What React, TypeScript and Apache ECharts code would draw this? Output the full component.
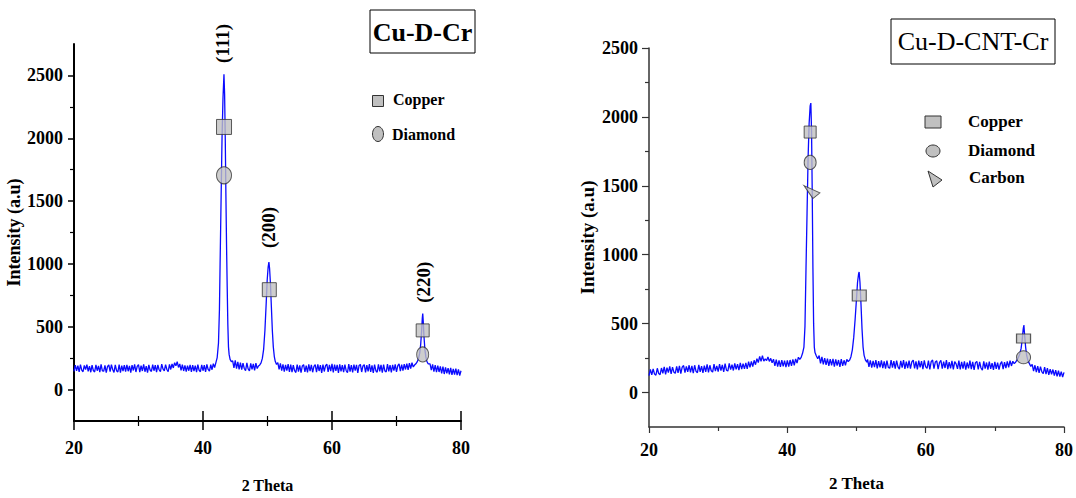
import React, { useEffect, useRef } from "react";
import * as echarts from "echarts";

// ---------- shared axis values ----------
const thetaMajor = [20, 40, 60, 80];
const thetaMinor = [30, 50, 70];
const intensityMajor = [0, 500, 1000, 1500, 2000, 2500];
const intensityMinor = [250, 750, 1250, 1750, 2250];
const SAMPLE_STEP = 0.2;

// ---------- Cu-D-Cr pattern (left) ----------
// baseline from 20.0 to 41.8 every 0.2 deg
const cdcBase20 = [
  145, 195, 150, 190, 140, 198, 155, 142, 192, 160,
  198, 145, 186, 138, 194, 152, 140, 196, 150, 188,
  138, 200, 148, 146, 192, 135, 184, 196, 142, 198,
  160, 136, 196, 150, 140, 198, 134, 190, 148, 194,
  142, 196, 146, 188, 134, 194, 152, 200, 140, 184,
  198, 138, 190, 148, 200, 142, 186, 134, 196, 156,
  144, 198, 150, 194, 138, 196, 158, 142, 202, 164,
  148, 198, 160, 142, 200, 160, 204, 172, 214, 190,
  222, 176, 204, 152, 198, 148, 192, 142, 190, 150,
  196, 140, 194, 148, 190, 138, 198, 154, 142, 196,
  150, 194, 140, 200, 160, 146, 198, 158, 206, 176,
];
const cdcPeak111 = [
  [42.0, 215], [42.2, 255], [42.4, 370], [42.55, 640], [42.65, 1000], [42.8, 1500],
  [42.95, 2000], [43.1, 2320], [43.25, 2510], [43.35, 2350], [43.45, 2000], [43.55, 1550],
  [43.65, 1150], [43.75, 820], [43.85, 520], [43.95, 340], [44.05, 280], [44.2, 240], [44.4, 222],
];
// baseline 44.6 – 48.4
const cdcBase446 = [228, 172, 232, 166, 220, 160, 214, 158, 210, 168, 150, 212, 164, 148, 208, 160, 204, 152, 210, 168];
const cdcPeak200 = [
  [48.6, 188], [48.8, 196], [49.0, 212], [49.2, 248], [49.4, 320], [49.6, 470], [49.8, 690],
  [49.95, 870], [50.1, 975], [50.22, 1015], [50.32, 965], [50.45, 850], [50.6, 660], [50.75, 470],
  [50.9, 340], [51.05, 265], [51.2, 225], [51.4, 200],
];
// baseline 51.6 – 72.6
const cdcBase516 = [
  215, 160, 208, 150, 200, 142, 196, 150, 202, 140,
  198, 138, 194, 150, 136, 198, 142, 192, 134, 188,
  198, 140, 190, 136, 200, 146, 196, 138, 184, 198,
  138, 200, 148, 194, 132, 198, 144, 190, 202, 140,
  196, 146, 204, 136, 198, 148, 196, 132, 200, 144,
  194, 138, 198, 150, 134, 202, 142, 194, 136, 198,
  150, 196, 132, 192, 200, 140, 188, 198, 136, 194,
  144, 202, 140, 192, 132, 198, 150, 138, 200, 144,
  196, 134, 198, 148, 140, 202, 144, 194, 136, 196,
  150, 200, 140, 190, 204, 146, 198, 150, 202, 160,
  206, 156, 210, 166, 214, 180,
];
const cdcPeak220 = [
  [72.8, 195], [73.0, 205], [73.2, 220], [73.4, 245], [73.6, 290], [73.75, 360], [73.9, 470],
  [74.0, 570], [74.07, 605], [74.15, 540], [74.25, 430], [74.4, 320], [74.55, 260], [74.7, 225], [74.9, 205],
];
// baseline 75.2 – 80.0
const cdcBase752 = [205, 155, 200, 142, 194, 138, 190, 140, 184, 128, 182, 124, 176, 130, 170, 122, 172, 118, 164, 120, 166, 115, 160, 112, 150];

const cdcCopper = [[43.26, 2090], [50.28, 795], [74.06, 471]];
const cdcDiamond = [[43.26, 1705], [74.06, 280]];
const cdcPeakNames = ["(111)", "(200)", "(220)"];
const cdcPeakNameAt = [[43.1, 2755], [50.2, 1290], [74.25, 855]];

// ---------- Cu-D-CNT-Cr pattern (right) ----------
const cntBase20 = [
  122, 168, 128, 172, 134, 126, 176, 138, 130, 178,
  140, 186, 132, 180, 144, 190, 136, 184, 148, 140,
  190, 142, 194, 138, 184, 196, 144, 190, 150, 198,
  146, 194, 140, 198, 154, 144, 200, 150, 192, 142,
  196, 150, 204, 146, 198, 158, 148, 206, 156, 194,
  152, 206, 160, 200, 150, 210, 162, 156, 212, 166,
  202, 160, 212, 168, 206, 162, 216, 170, 210, 172,
  216, 172, 224, 182, 226, 188, 234, 202, 246, 218,
  262, 226, 268, 228, 244, 232, 258, 226, 248, 216,
  242, 194, 238, 188, 234, 186, 236, 190, 232, 184,
  234, 188, 236, 194, 240, 198, 244, 214, 256, 240,
];
const cntPeak111 = [
  [42.0, 255], [42.2, 285], [42.4, 330], [42.55, 480], [42.7, 900], [42.85, 1300], [43.0, 1700],
  [43.15, 1950], [43.3, 2080], [43.4, 2100], [43.5, 1900], [43.6, 1450], [43.7, 900], [43.8, 500],
  [43.9, 330], [44.0, 290], [44.2, 265], [44.4, 245],
];
// baseline 44.6 – 48.6
const cntBase446 = [268, 212, 258, 204, 250, 200, 246, 194, 242, 198, 244, 188, 240, 196, 236, 186, 242, 194, 234, 198, 240];
const cntPeak200 = [
  [48.8, 225], [49.0, 235], [49.2, 260], [49.4, 310], [49.6, 400], [49.8, 530], [50.0, 680],
  [50.15, 800], [50.3, 860], [50.38, 875], [50.5, 800], [50.65, 640], [50.8, 460], [50.95, 330],
  [51.1, 270], [51.3, 235], [51.5, 220],
];
// baseline 51.6 – 72.6
const cntBase516 = [
  240, 186, 234, 180, 230, 184, 236, 176, 228, 182,
  234, 178, 226, 174, 232, 182, 176, 236, 180, 228,
  174, 232, 186, 170, 230, 180, 236, 172, 224, 178,
  232, 174, 222, 236, 176, 226, 168, 232, 182, 228,
  170, 234, 186, 176, 232, 168, 224, 236, 174, 222,
  230, 170, 218, 234, 174, 224, 178, 236, 170, 220,
  176, 230, 168, 224, 208, 172, 232, 168, 222, 174,
  226, 166, 218, 176, 232, 170, 222, 164, 217, 226,
  168, 222, 178, 162, 226, 174, 218, 166, 224, 172,
  214, 164, 222, 172, 217, 166, 208, 224, 170, 220,
  178, 226, 183, 232, 193, 227,
];
const cntPeak220 = [
  [72.8, 210], [73.0, 220], [73.2, 235], [73.4, 255], [73.6, 280], [73.8, 320], [73.95, 380],
  [74.1, 460], [74.2, 490], [74.3, 420], [74.45, 330], [74.6, 270], [74.8, 230], [75.0, 210], [75.2, 190],
];
// baseline 75.4 – 80.0
const cntBase754 = [204, 156, 198, 148, 192, 143, 188, 150, 138, 184, 133, 177, 128, 170, 133, 167, 123, 162, 118, 158, 116, 152, 113, 146];

const cntCopper = [[43.3, 1890], [50.4, 704], [74.15, 392]];
const cntDiamond = [[43.3, 1670], [74.15, 256]];
const cntCarbon = [[43.55, 1455]];

// ---------- helpers ----------
const seg = (start: number, vals: number[]) =>
  vals.map((v, i) => [Math.round((start + i * SAMPLE_STEP) * 100) / 100, v]);

const cdcData = [
  ...seg(20, cdcBase20), ...cdcPeak111, ...seg(44.6, cdcBase446), ...cdcPeak200,
  ...seg(51.6, cdcBase516), ...cdcPeak220, ...seg(75.2, cdcBase752),
];
const cntData = [
  ...seg(20, cntBase20), ...cntPeak111, ...seg(44.6, cntBase446), ...cntPeak200,
  ...seg(51.6, cntBase516), ...cntPeak220, ...seg(75.4, cntBase754),
];

const SERIF = '"Liberation Serif", "Times New Roman", Times, serif';
const MARK_FILL = "#c0c0c0";
const MARK_EDGE = "#333333";
const LINE_BLUE = "#0a0aff";

const withSizes = (pts: number[][], sizes: number[][]) =>
  pts.map((p, i) => ({ value: p, symbolSize: sizes[i] }));

export default function App() {
  const ref = useRef<HTMLDivElement>(null);
  useEffect(() => {
    if (!ref.current) return;
    const chart = echarts.init(ref.current, null, { renderer: "svg" });
    const plain = (v: number) => String(v);
    const lbl = (size: number, margin: number) => ({
      show: true, fontFamily: SERIF, fontWeight: "bold", fontSize: size, color: "#000", margin, formatter: plain,
    });
    const xBase = (grid: number) => ({
      type: "value", gridIndex: grid, min: 20, max: 80, position: "bottom",
      splitLine: { show: false },
    });
    const yBase = (grid: number, max: number) => ({
      type: "value", gridIndex: grid, min: -250, max, position: "left",
      splitLine: { show: false },
    });
    const hiddenLine = { show: false, onZero: false };
    const noLabel = { show: false };

    const markStyle = { color: MARK_FILL, borderColor: MARK_EDGE, borderWidth: 1 };

    const staticGraphic: any[] = [
      // left title
      { type: "rect", shape: { x: 370, y: 10, width: 105, height: 43 }, style: { fill: "#fff", stroke: "#000", lineWidth: 1 } },
      {
        type: "text", x: 422.5, y: 32,
        style: { text: "Cu-D-Cr", fontFamily: SERIF, fontWeight: "bold", fontSize: 26, fill: "#000", textAlign: "center", textVerticalAlign: "middle", align: "center", verticalAlign: "middle" },
      },
      // right title
      { type: "rect", shape: { x: 891, y: 19, width: 164, height: 45 }, style: { fill: "#fff", stroke: "#000", lineWidth: 1 } },
      {
        type: "text", x: 973, y: 41,
        style: { text: "Cu-D-CNT-Cr", fontFamily: SERIF, fontWeight: "normal", fontSize: 26, fill: "#000", textAlign: "center", textVerticalAlign: "middle", align: "center", verticalAlign: "middle" },
      },
      // left legend
      { type: "rect", shape: { x: 372.5, y: 95.5, width: 11, height: 11 }, style: { fill: MARK_FILL, stroke: MARK_EDGE, lineWidth: 1 } },
      { type: "text", x: 393, y: 99, style: { text: "Copper", fontFamily: SERIF, fontWeight: "bold", fontSize: 16, fill: "#000", textVerticalAlign: "middle", verticalAlign: "middle" } },
      { type: "ellipse", shape: { cx: 378, cy: 134, rx: 5.5, ry: 7.5 }, style: { fill: MARK_FILL, stroke: MARK_EDGE, lineWidth: 1 } },
      { type: "text", x: 392, y: 134, style: { text: "Diamond", fontFamily: SERIF, fontWeight: "bold", fontSize: 16, fill: "#000", textVerticalAlign: "middle", verticalAlign: "middle" } },
      // right legend
      { type: "rect", shape: { x: 925, y: 116, width: 16, height: 12 }, style: { fill: MARK_FILL, stroke: MARK_EDGE, lineWidth: 1 } },
      { type: "text", x: 968, y: 121, style: { text: "Copper", fontFamily: SERIF, fontWeight: "bold", fontSize: 17, fill: "#000", textVerticalAlign: "middle", verticalAlign: "middle" } },
      { type: "ellipse", shape: { cx: 933, cy: 151, rx: 7, ry: 6 }, style: { fill: MARK_FILL, stroke: MARK_EDGE, lineWidth: 1 } },
      { type: "text", x: 968, y: 150, style: { text: "Diamond", fontFamily: SERIF, fontWeight: "bold", fontSize: 17, fill: "#000", textVerticalAlign: "middle", verticalAlign: "middle" } },
      { type: "polygon", shape: { points: [[928, 171], [942, 180], [933, 187]] }, style: { fill: MARK_FILL, stroke: MARK_EDGE, lineWidth: 1 } },
      { type: "text", x: 969, y: 177, style: { text: "Carbon", fontFamily: SERIF, fontWeight: "bold", fontSize: 17, fill: "#000", textVerticalAlign: "middle", verticalAlign: "middle" } },
    ];

    const option: any = {
      animation: false,
      backgroundColor: "#fff",
      grid: [
        { left: 74, top: 44, width: 387, height: 382 },
        { left: 649, top: 48, width: 417, height: 379 },
      ],
      xAxis: [
        {
          ...xBase(0),
          axisLine: { show: true, onZero: false, lineStyle: { color: "#000", width: 2 } },
          axisTick: { show: true, customValues: thetaMajor, length: 9, lineStyle: { color: "#000", width: 1.5 } },
          axisLabel: { ...lbl(18, 18), customValues: thetaMajor },
          name: "2 Theta", nameLocation: "middle", nameGap: 56,
          nameTextStyle: { fontFamily: SERIF, fontWeight: "bold", fontSize: 16, color: "#000" },
        },
        {
          ...xBase(0), axisLine: hiddenLine, axisLabel: noLabel,
          axisTick: { show: true, inside: true, customValues: thetaMajor, length: 10, lineStyle: { color: "#000", width: 1.5 } },
        },
        {
          ...xBase(0), axisLine: hiddenLine, axisLabel: noLabel,
          axisTick: { show: true, customValues: thetaMinor, length: 5, lineStyle: { color: "#000", width: 1.2 } },
        },
        {
          ...xBase(0), axisLine: hiddenLine, axisLabel: noLabel,
          axisTick: { show: true, inside: true, customValues: thetaMinor, length: 5, lineStyle: { color: "#000", width: 1.2 } },
        },
        {
          ...xBase(1),
          axisLine: { show: true, onZero: false, lineStyle: { color: "#333", width: 1.5 } },
          axisTick: { show: true, customValues: thetaMajor, length: 6, lineStyle: { color: "#333", width: 1.2 } },
          axisLabel: { ...lbl(18, 14), customValues: thetaMajor },
          name: "2 Theta", nameLocation: "middle", nameGap: 48,
          nameTextStyle: { fontFamily: SERIF, fontWeight: "bold", fontSize: 17, color: "#000" },
        },
        {
          ...xBase(1), axisLine: hiddenLine, axisLabel: noLabel,
          axisTick: { show: true, customValues: thetaMinor, length: 4, lineStyle: { color: "#333", width: 1.2 } },
        },
      ],
      yAxis: [
        {
          ...yBase(0, 2750),
          axisLine: { show: true, onZero: false, lineStyle: { color: "#000", width: 2 } },
          axisTick: { show: true, customValues: intensityMajor, length: 6, lineStyle: { color: "#000", width: 1.5 } },
          axisLabel: { ...lbl(18, 11), customValues: intensityMajor },
          name: "Intensity (a.u)", nameLocation: "middle", nameGap: 44, nameRotate: 90,
          nameTextStyle: { fontFamily: SERIF, fontWeight: "bold", fontSize: 18, color: "#000" },
        },
        {
          ...yBase(0, 2750), axisLine: hiddenLine, axisLabel: noLabel,
          axisTick: { show: true, customValues: intensityMinor, length: 4, lineStyle: { color: "#000", width: 1.2 } },
        },
        {
          ...yBase(1, 2500),
          axisLine: { show: true, onZero: false, lineStyle: { color: "#333", width: 1.5 } },
          axisTick: { show: true, customValues: intensityMajor, length: 7, lineStyle: { color: "#333", width: 1.2 } },
          axisLabel: { ...lbl(18, 11), customValues: intensityMajor },
          name: "Intensity (a.u)", nameLocation: "middle", nameGap: 52, nameRotate: 90,
          nameTextStyle: { fontFamily: SERIF, fontWeight: "bold", fontSize: 19, color: "#000" },
        },
        {
          ...yBase(1, 2500), axisLine: hiddenLine, axisLabel: noLabel,
          axisTick: { show: true, customValues: intensityMinor, length: 4, lineStyle: { color: "#333", width: 1.2 } },
        },
      ],
      series: [
        {
          name: "Cu-D-Cr", type: "line", xAxisIndex: 0, yAxisIndex: 0, data: cdcData,
          showSymbol: false, symbol: "none", lineStyle: { color: LINE_BLUE, width: 1.3 }, z: 2,
        },
        {
          name: "Copper", type: "scatter", xAxisIndex: 0, yAxisIndex: 0, symbol: "rect",
          data: withSizes(cdcCopper, [[15, 15], [14, 14], [13, 13]]), itemStyle: markStyle, z: 3,
        },
        {
          name: "Diamond", type: "scatter", xAxisIndex: 0, yAxisIndex: 0, symbol: "circle",
          data: withSizes(cdcDiamond, [[15, 17], [12, 15]]), itemStyle: markStyle, z: 3,
        },
        {
          name: "Cu-D-CNT-Cr", type: "line", xAxisIndex: 4, yAxisIndex: 2, data: cntData,
          showSymbol: false, symbol: "none", lineStyle: { color: LINE_BLUE, width: 1.3 }, z: 2,
        },
        {
          name: "Copper", type: "scatter", xAxisIndex: 4, yAxisIndex: 2, symbol: "rect",
          data: withSizes(cntCopper, [[12, 12], [14, 11], [14, 9]]), itemStyle: markStyle, z: 3,
        },
        {
          name: "Diamond", type: "scatter", xAxisIndex: 4, yAxisIndex: 2, symbol: "circle",
          data: withSizes(cntDiamond, [[12, 14], [14, 13]]), itemStyle: markStyle, z: 3,
        },
        {
          name: "Carbon", type: "scatter", xAxisIndex: 4, yAxisIndex: 2,
          symbol: "path://M0,0L16,8L9,14Z", symbolKeepAspect: false,
          data: withSizes(cntCarbon, [[16, 13]]), itemStyle: markStyle, z: 3,
        },
      ],
      graphic: staticGraphic,
    };
    chart.setOption(option);

    // Miller-index annotations, placed through the left panel's scales
    const hklTexts = cdcPeakNameAt.map((p, i) => {
      const px = chart.convertToPixel({ xAxisIndex: 0, yAxisIndex: 0 } as any, p) as number[];
      return {
        type: "text", x: px[0], y: px[1], rotation: Math.PI / 2, z: 10,
        style: {
          text: cdcPeakNames[i], fontFamily: SERIF, fontWeight: "bold", fontSize: 19, fill: "#000",
          textAlign: "center", textVerticalAlign: "middle", align: "center", verticalAlign: "middle",
        },
      };
    });
    chart.setOption({ graphic: [...staticGraphic, ...hklTexts] });
    return () => chart.dispose();
  }, []);
  return (
    <div
      ref={ref}
      style={{ position: "absolute", left: 0, top: 0, width: 1076, height: 498, background: "#fff" }}
    />
  );
}
